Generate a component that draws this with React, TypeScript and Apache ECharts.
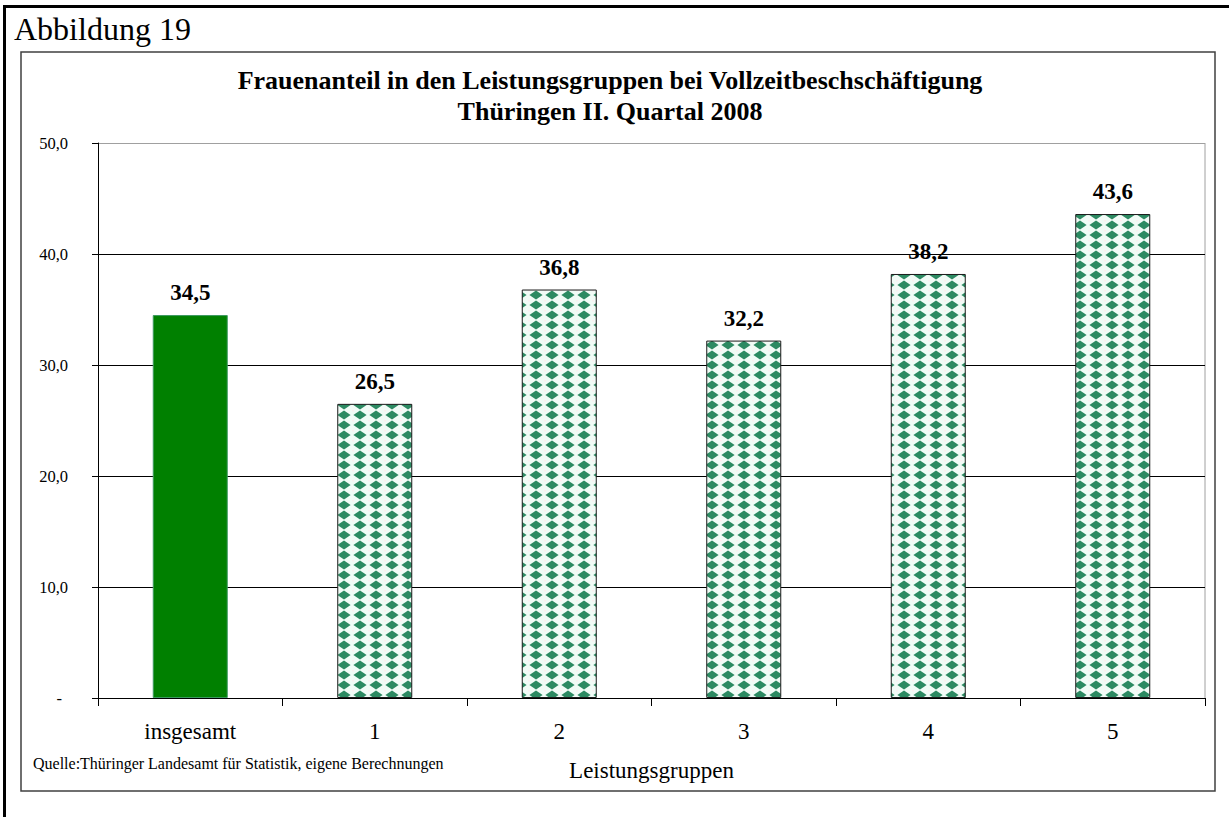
import React, { useEffect, useRef } from "react";
import * as echarts from "echarts";

const categories = ["insgesamt", "1", "2", "3", "4", "5"];
const values = [34.5, 26.5, 36.8, 32.2, 38.2, 43.6];
const yMin = 0;
const yMax = 50;
const yStep = 10;
const titleLines = [
  "Frauenanteil in den Leistungsgruppen bei Vollzeitbeschschäftigung",
  "Thüringen II. Quartal 2008",
];
const figureLabel = "Abbildung 19";
const sourceText = "Quelle:Thüringer Landesamt für Statistik, eigene Berechnungen";
const xAxisName = "Leistungsgruppen";

const FONT = '"Liberation Serif", "Times New Roman", serif';

function makePattern(): string {
  const c = document.createElement("canvas");
  c.width = 16;
  c.height = 10;
  const ctx = c.getContext("2d")!;
  ctx.fillStyle = "#f1fbf6";
  ctx.fillRect(0, 0, 16, 10);
  ctx.fillStyle = "#fbeff0";
  ctx.fillRect(0, 0, 2, 1.5);
  ctx.fillStyle = "#2c8a62";
  ctx.beginPath();
  ctx.moveTo(8, 0.4);
  ctx.lineTo(14.6, 5);
  ctx.lineTo(8, 9.6);
  ctx.lineTo(1.4, 5);
  ctx.closePath();
  ctx.fill();
  return c.toDataURL();
}

const fmt = (v: number) => v.toFixed(1).replace(".", ",");

export default function App() {
  const ref = useRef<HTMLDivElement>(null);
  useEffect(() => {
    if (!ref.current) return;
    const chart = echarts.init(ref.current, null, { renderer: "svg" });
    const pattern = {
      image: makePattern(),
      repeat: "repeat",
      imageWidth: 16,
      imageHeight: 10,
    };
    const data = values.map((v, i) =>
      i === 0
        ? {
            value: v,
            itemStyle: { color: "#008000", borderColor: "#3c9a60", borderWidth: 1 },
          }
        : {
            value: v,
            itemStyle: { color: pattern, borderColor: "#1a1a1a", borderWidth: 1 },
          }
    );
    chart.setOption({
      animation: false,
      backgroundColor: "#fff",
      grid: { left: 98, top: 143, right: 24, bottom: 119, containLabel: false },
      xAxis: {
        type: "category",
        data: categories,
        name: xAxisName,
        nameLocation: "middle",
        nameGap: 61,
        nameTextStyle: { fontFamily: FONT, fontSize: 23, color: "#000" },
        axisLine: { show: true, lineStyle: { color: "#000", width: 1 } },
        axisTick: { show: true, alignWithLabel: false, length: 8, lineStyle: { color: "#000" } },
        axisLabel: { fontFamily: FONT, fontSize: 23, color: "#000", margin: 22 },
        splitLine: { show: false },
      },
      yAxis: {
        type: "value",
        min: yMin,
        max: yMax,
        interval: yStep,
        axisLine: { show: true, lineStyle: { color: "#000", width: 1 } },
        axisTick: { show: true, inside: false, length: 6, lineStyle: { color: "#000" } },
        axisLabel: {
          fontFamily: FONT,
          fontSize: 16.5,
          color: "#000",
          margin: 30,
          formatter: (v: number) => (v === 0 ? "{d|-}" : fmt(v)),
          rich: { d: { fontFamily: FONT, fontSize: 16.5, color: "#000", padding: [0, 6, 0, 0] } },
        },
        splitLine: {
          show: true,
          lineStyle: { color: ["#000", "#000", "#000", "#000", "#000", "#a0a0a0"], width: 1 },
        },
      },
      series: [
        {
          type: "bar",
          data,
          barWidth: 75,
          label: {
            show: true,
            position: "top",
            distance: 11,
            fontFamily: FONT,
            fontSize: 23,
            fontWeight: "bold",
            color: "#000",
            formatter: (p: any) => fmt(p.value),
          },
        },
      ],
      graphic: [
        {
          type: "rect",
          silent: true,
          shape: { x: 4.5, y: 6.5, width: 1240, height: 830 },
          style: { fill: "none", stroke: "#000", lineWidth: 3 },
        },
        {
          type: "rect",
          silent: true,
          shape: { x: 21, y: 52, width: 1194, height: 739 },
          style: { fill: "none", stroke: "#404040", lineWidth: 1.5 },
        },
        {
          type: "line",
          silent: true,
          shape: { x1: 1205, y1: 143, x2: 1205, y2: 698 },
          style: { stroke: "#a0a0a0", lineWidth: 1 },
        },
        {
          type: "text",
          silent: true,
          style: {
            text: figureLabel,
            x: 14,
            y: 29,
            font: `32px ${FONT}`,
            fill: "#000",
            textAlign: "left",
            textVerticalAlign: "middle",
            align: "left",
            verticalAlign: "middle",
          },
        },
        ...titleLines.map((t, i) => ({
          type: "text",
          silent: true,
          style: {
            text: t,
            x: 610,
            y: 80 + i * 31,
            font: `bold 26px ${FONT}`,
            fill: "#000",
            textAlign: "center",
            textVerticalAlign: "middle",
            align: "center",
            verticalAlign: "middle",
          },
        })),
        {
          type: "text",
          silent: true,
          style: {
            text: sourceText,
            x: 33,
            y: 763,
            font: `16px ${FONT}`,
            fill: "#000",
            textAlign: "left",
            textVerticalAlign: "middle",
            align: "left",
            verticalAlign: "middle",
          },
        },
      ],
    });
    return () => chart.dispose();
  }, []);
  return (
    <div
      ref={ref}
      style={{ position: "absolute", left: 0, top: 0, width: 1229, height: 817 }}
    />
  );
}
